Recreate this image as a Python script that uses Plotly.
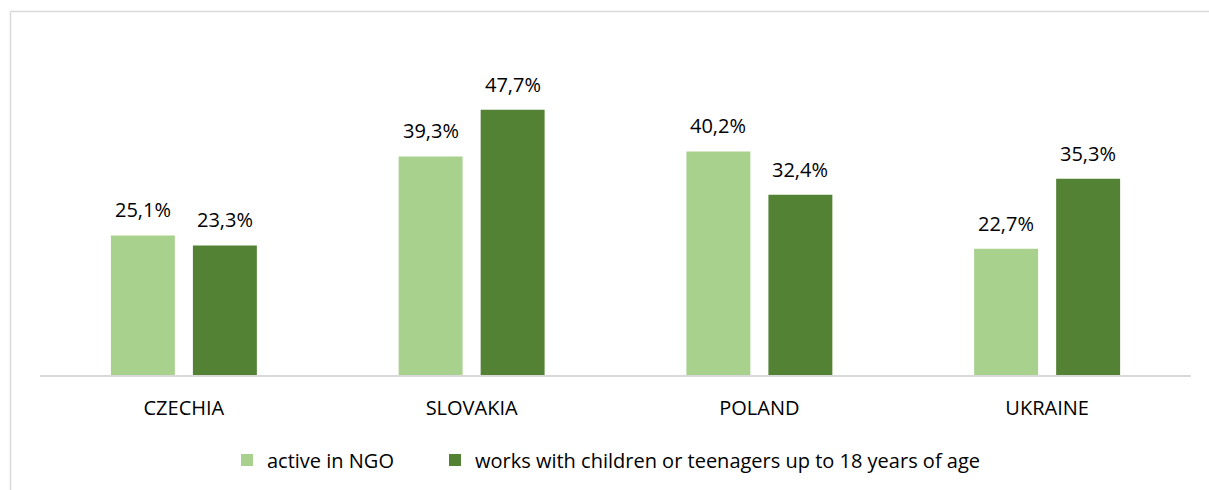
import plotly.graph_objects as go

categories = ["CZECHIA", "SLOVAKIA", "POLAND", "UKRAINE"]
active_ngo = [25.1, 39.3, 40.2, 22.7]
works_children = [23.3, 47.7, 32.4, 35.3]
series_names = ["active in NGO", "works with children or teenagers up to 18 years of age"]

LIGHT = "#A9D18E"
DARK = "#548235"
FONT = "Open Sans"
FS = 20

W, H = 1209, 490
ML, MR, MT, MB = 40, 18, 97, 115
pw = W - ML - MR
ph = H - MT - MB

def fmt(v):
    return f"{v:.1f}%".replace(".", ",")

def px_x(p):
    return (p - ML) / pw

def px_y(p):
    return (H - MB - p) / ph

fig = go.Figure()
fig.add_trace(go.Bar(x=categories, y=active_ngo, name=series_names[0], legend="legend",
                     marker=dict(color=LIGHT, line=dict(width=0))))
fig.add_trace(go.Bar(x=categories, y=works_children, name=series_names[1], legend="legend2",
                     marker=dict(color=DARK, line=dict(width=0))))

annotations = []
for vals, shift in ((active_ngo, -41), (works_children, 41)):
    for c, v in zip(categories, vals):
        annotations.append(dict(x=c, y=v, xref="x", yref="y", text=fmt(v),
                                showarrow=False, xshift=shift, yshift=10,
                                yanchor="bottom",
                                font=dict(family=FONT, size=FS, color="#000000")))

shapes = [
    dict(type="line", xref="paper", yref="paper", x0=px_x(10.5), x1=px_x(10.5),
         y0=px_y(11.5), y1=px_y(H + 2), line=dict(color="#D9D9D9", width=1.5)),
    dict(type="line", xref="paper", yref="paper", x0=px_x(10.5), x1=px_x(W + 2),
         y0=px_y(11.5), y1=px_y(11.5), line=dict(color="#D9D9D9", width=1.5)),
]

leg_common = dict(orientation="h", yanchor="middle", y=px_y(460),
                  xanchor="left", bgcolor="rgba(0,0,0,0)",
                  font=dict(family=FONT, size=FS, color="#000000"),
                  itemwidth=30, tracegroupgap=0)

fig.update_layout(
    width=W, height=H,
    margin=dict(l=ML, r=MR, t=MT, b=MB, autoexpand=False),
    paper_bgcolor="white", plot_bgcolor="white",
    barmode="group", bargap=0.43, bargroupgap=0.22,
    font=dict(family=FONT, size=FS, color="#000000"),
    showlegend=True,
    legend=dict(x=px_x(241 - 14), **leg_common),
    legend2=dict(x=px_x(449 - 14), **leg_common),
    xaxis=dict(showline=True, linecolor="#D9D9D9", linewidth=2, ticks="outside",
               ticklen=14, tickcolor="rgba(0,0,0,0)",
               tickfont=dict(family=FONT, size=FS, color="#000000"),
               showgrid=False, zeroline=False),
    yaxis=dict(range=[0, 50], showticklabels=False, showgrid=False, zeroline=False,
               showline=False),
    annotations=annotations,
    shapes=shapes,
)

fig.write_html("out.html")
